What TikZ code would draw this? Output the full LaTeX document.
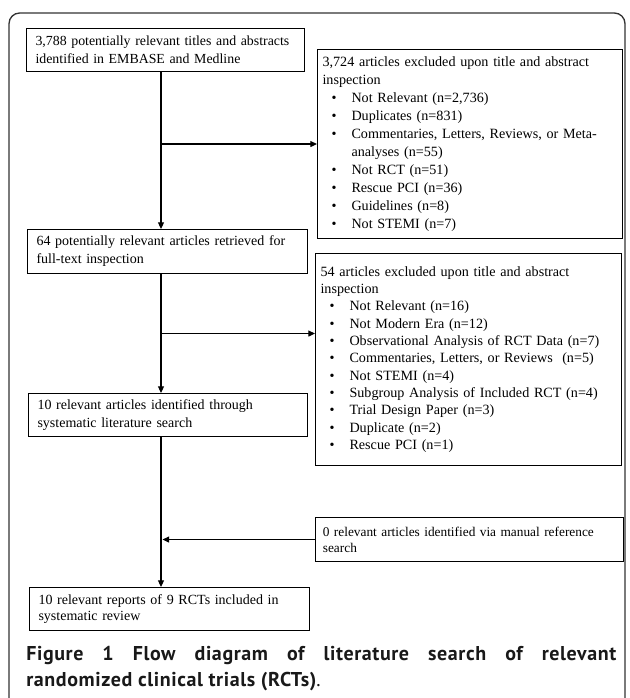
\documentclass[tikz,border=0pt]{standalone}
\usepackage{fontspec}
\setmainfont{Liberation Serif}
\newfontfamily\capfont[LetterSpace=3]{PT Sans}
\usepackage{tikz}
\usetikzlibrary{calc,arrows.meta}

\newcommand{\bitem}[1]{\\\hspace*{6.75pt}\makebox[15pt][l]{\textbullet}#1}
\newcommand{\bcont}[1]{\\\hspace*{21.75pt}#1}

\begin{document}
\begin{tikzpicture}[x=0.75pt,y=-0.75pt,
	box/.style={draw,line width=0.8pt,anchor=north west,align=left,inner xsep=6.75pt,inner ysep=2pt,font=\fontsize{10.5}{13.5}\selectfont},
	exbox/.style={box,inner xsep=3.75pt,font=\fontsize{10.6}{13.5}\selectfont},
	arr/.style={-{Triangle[length=5pt,width=4.5pt]},line width=0.8pt}]
	\useasboundingbox (0,0) rectangle (629,698);
	% frame round the figure
	\draw[line width=1pt,black!80,rounded corners=8pt] (9,700) -- (9,13) -- (625,13) -- (625,700);
	
	\node[box,text width=195pt,minimum height=32.25pt,font=\fontsize{10.4}{13.5}\selectfont] (b1) at (26,28) {3,788 potentially relevant titles and abstracts\\identified in EMBASE and Medline};
	\node[exbox,text width=221.25pt,minimum height=141.75pt] (x1) at (317,49) {3,724 articles excluded upon title and abstract\\inspection\bitem{Not Relevant (n=2,736)}\bitem{Duplicates (n=831)}\bitem{Commentaries, Letters, Reviews, or Meta-}\bcont{analyses (n=55)}\bitem{Not RCT (n=51)}\bitem{Rescue PCI (n=36)}\bitem{Guidelines (n=8)}\bitem{Not STEMI (n=7)}};
	\node[box,text width=196.5pt,minimum height=33pt] (b2) at (27,229) {64 potentially relevant articles retrieved for\\full-text inspection};
	\node[exbox,text width=222pt,minimum height=159pt,font=\fontsize{10.6}{13}\selectfont] (x2) at (315,253) {54 articles excluded upon title and abstract\\inspection\bitem{Not Relevant (n=16)}\bitem{Not Modern Era (n=12)}\bitem{Observational Analysis of RCT Data (n=7)}\bitem{Commentaries, Letters, or Reviews\ \ (n=5)}\bitem{Not STEMI (n=4)}\bitem{Subgroup Analysis of Included RCT (n=4)}\bitem{Trial Design Paper (n=3)}\bitem{Duplicate (n=2)}\bitem{Rescue PCI (n=1)}\\[6pt]};
	\node[box,text width=195.75pt,minimum height=32.25pt] (b3) at (28,393) {10 relevant articles identified through\\systematic literature search};
	\node[box,inner xsep=5.5pt,text width=220pt,minimum height=33pt,font=\fontsize{10}{12}\selectfont] (mr) at (315,517) {0 relevant articles identified via manual reference\\search};
	\node[box,text width=196.5pt,minimum height=32.25pt,font=\fontsize{10.5}{12}\selectfont] (fin) at (29,587) {10 relevant reports of 9 RCTs included in\\systematic review};
	
	\coordinate (spine) at (161,0);
	\draw[arr] (b1.south -| spine) -- (b2.north -| spine);
	\draw[arr] (spine |- x1.west) -- (x1.west);
	\draw[arr] (b2.south -| spine) -- (b3.north -| spine);
	\coordinate (m2) at ($(b2.south -| spine)!0.5!(b3.north -| spine)$);
	\draw[arr] (m2) -- (m2 -| x2.west);
	\draw[arr] (b3.south -| spine) -- (fin.north -| spine);
	\draw[arr] (mr.west) -- ($(mr.west -| spine)+(1.5,0)$);
	
	\node[anchor=north west,inner sep=0pt,text width=442.5pt,align=justify,text=black!90,font=\capfont\fontsize{15}{19.5}\selectfont] (cap) at (26,646) {\textbf{Figure 1 Flow diagram of literature search of relevant\linebreak randomized clinical trials (RCTs)}.};
\end{tikzpicture}
\end{document}
